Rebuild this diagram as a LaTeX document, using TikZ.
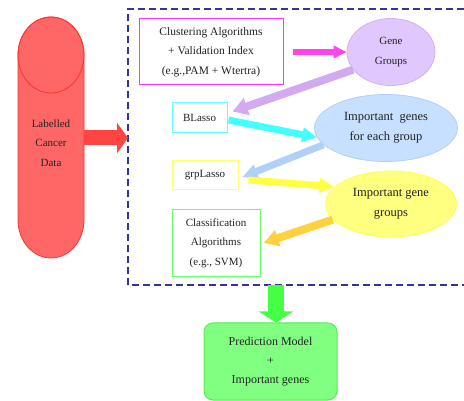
\documentclass[tikz,border=0pt]{standalone}
\usepackage{fontspec}
\setmainfont{Liberation Serif}
\usetikzlibrary{arrows.meta,shapes.geometric}
\definecolor{cylfill}{HTML}{FF6666}
\definecolor{cyldraw}{HTML}{FF3333}
\definecolor{redarr}{HTML}{FF4444}
\definecolor{magbox}{HTML}{FF33FF}
\definecolor{magarr}{HTML}{FF44EE}
\definecolor{lavfill}{HTML}{E0C8FF}
\definecolor{lavdraw}{HTML}{D0B0F8}
\definecolor{lavarr}{HTML}{D2AAF2}
\definecolor{cyanbox}{HTML}{66FFFF}
\definecolor{cyanarr}{HTML}{44FFFF}
\definecolor{bluefill}{HTML}{C8E0FF}
\definecolor{bluedraw}{HTML}{B0D0F8}
\definecolor{bluearr}{HTML}{B0D0F8}
\definecolor{yelbox}{HTML}{FFFF66}
\definecolor{yelarr}{HTML}{FFFF44}
\definecolor{yelfill}{HTML}{FFFF80}
\definecolor{yeldraw}{HTML}{FFFF55}
\definecolor{orarr}{HTML}{FFD040}
\definecolor{grnbox}{HTML}{66FF66}
\definecolor{grnarr}{HTML}{44FF44}
\definecolor{grnfill}{HTML}{80FF80}
\definecolor{grndraw}{HTML}{55EE55}
\definecolor{framec}{HTML}{333399}
\definecolor{txt}{HTML}{222222}
\begin{document}
\begin{tikzpicture}[x=1pt,y=-1pt,
  every node/.style={text=txt,align=center,inner sep=0pt},
  lbl/.style={font=\fontsize{11}{19.5}\selectfont},
  big/.style={font=\fontsize{12.5}{19.5}\selectfont},
  boxnode/.style={draw,line width=1pt,fill=white,lbl},
  ellnode/.style={ellipse,draw,line width=0.8pt,big},
  blk/.style n args={3}{line width=#1,-{Triangle[length=#2,width=#3]}}
]
\useasboundingbox (0,0) rectangle (464,401);
% frame
\draw[framec,line width=1.5pt,dash pattern=on 7pt off 4pt] (464,9) -- (128,9) -- (128,285) -- (464,285);
\coordinate (fl) at (128,138);
\coordinate (fb) at (276,285);
% cylinder
\node[minimum width=66pt,minimum height=240pt] (data) at (51,138) {};
\draw[fill=cylfill,draw=cyldraw,line width=0.8pt]
  (18,55) arc[start angle=180,end angle=0,x radius=33pt,y radius=38pt]
  -- (84,220) arc[start angle=0,end angle=-180,x radius=33pt,y radius=38pt] -- cycle;
\draw[draw=cyldraw,line width=0.8pt] (51,55) ellipse[x radius=33pt,y radius=38pt];
\node[lbl] (datatxt) at (51,143) {Labelled\\Cancer\\Data};
% nodes
\node[boxnode,draw=magbox,minimum width=144pt,minimum height=66pt,font=\fontsize{11.5}{19.5}\selectfont] (clus) at (211,52)
  {Clustering Algorithms\\+ Validation Index\\(e.g.,PAM + Wtertra)};
\node[ellnode,fill=lavfill,draw=lavdraw,minimum width=88pt,minimum height=67pt,lbl] (gene) at (391,52) {Gene\\Groups};
\node[boxnode,draw=cyanbox,minimum width=55pt,minimum height=30pt] (blasso) at (199.5,118) {BLasso};
\node[ellnode,fill=bluefill,draw=bluedraw,minimum width=143pt,minimum height=67pt] (impg) at (386,128) {Important~~genes\\for each group};
\node[boxnode,draw=yelbox,minimum width=66pt,minimum height=29pt] (grp) at (205,175.5) {grpLasso};
\node[ellnode,fill=yelfill,draw=yeldraw,minimum width=131pt,minimum height=66pt] (impgg) at (391,204) {Important gene\\groups};
\node[boxnode,draw=grnbox,minimum width=88pt,minimum height=67pt] (clas) at (216,243) {Classification\\Algorithms\\(e.g., SVM)};
\node[draw=grndraw,fill=grnfill,line width=1pt,rounded corners=9pt,minimum width=133pt,minimum height=77pt,font=\fontsize{12}{19}\selectfont] (pred) at (270.5,361.5)
  {Prediction Model\\+\\Important genes};
% arrows
\draw[redarr,blk={15pt}{11pt}{30pt}] (data.east) -- (fl);
\draw[magarr,blk={6pt}{13pt}{12pt}] ([xshift=9pt]clus.east) -- (gene.west);
\draw[lavarr,blk={8pt}{15pt}{17pt}] (gene.205) -- ([shift={(5,9)}]blasso.north east);
\draw[cyanarr,blk={7pt}{15pt}{14pt}] ([shift={(1,2)}]blasso.east) -- (impg.188);
\draw[bluearr,blk={7pt}{15pt}{14pt}] (impg.195) -- ([shift={(4,1.5)}]grp.east);
\draw[yelarr,blk={7pt}{15pt}{14pt}] ([shift={(10,4.5)}]grp.east) -- (impgg.163);
\draw[orarr,blk={8pt}{15pt}{16pt}] (impgg.195) -- ([xshift=3pt]clas.east);
\draw[grnarr,blk={16pt}{11pt}{34pt}] (fb) -- (fb |- pred.north);
\end{tikzpicture}
\end{document}
